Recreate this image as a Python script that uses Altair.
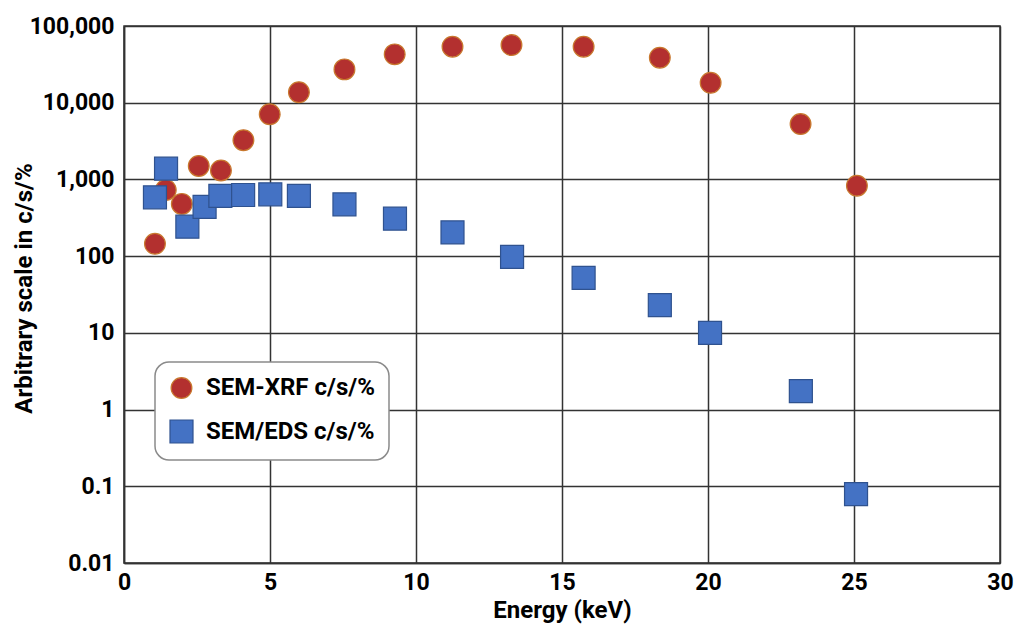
import altair as alt
import pandas as pd

xrf_energy = [1.06, 1.43, 1.98, 2.56, 3.32, 4.09, 4.99, 5.99, 7.55, 9.27, 11.25, 13.27, 15.74, 18.35, 20.09, 23.17, 25.1]
xrf_value = [145, 730, 480, 1500, 1310, 3250, 7060, 13700, 27200, 42700, 53700, 56500, 53700, 38600, 18200, 5270, 828]

eds_energy = [1.06, 1.44, 2.17, 2.76, 3.30, 4.08, 5.01, 5.99, 7.55, 9.28, 11.25, 13.29, 15.74, 18.35, 20.07, 23.18, 25.07]
eds_value = [585, 1380, 242, 440, 612, 627, 640, 612, 473, 308, 204, 98, 52, 23, 10, 1.74, 0.079]

series_names = ["SEM-XRF c/s/%", "SEM/EDS c/s/%"]
y_ticks = [0.01, 0.1, 1, 10, 100, 1000, 10000, 100000]
x_ticks = [0, 5, 10, 15, 20, 25, 30]

rows = []
for e, v in zip(xrf_energy, xrf_value):
    rows.append({"energy": e, "value": v, "series": series_names[0]})
for e, v in zip(eds_energy, eds_value):
    rows.append({"energy": e, "value": v, "series": series_names[1]})
df = pd.DataFrame(rows)

FONT = "Roboto"

chart = alt.Chart(df).mark_point(filled=True, opacity=1, strokeWidth=1.2).encode(
    x=alt.X("energy:Q", title="Energy (keV)",
            scale=alt.Scale(domain=[0, 30], nice=False, zero=False),
            axis=alt.Axis(values=x_ticks, format="d", grid=True, ticks=False,
                          labelFlush=False, labelPadding=8, titlePadding=4)),
    y=alt.Y("value:Q", title="Arbitrary scale in c/s/%",
            scale=alt.Scale(type="log", domain=[0.01, 100000], nice=False),
            axis=alt.Axis(values=y_ticks, format=",", grid=True, ticks=False,
                          labelFlush=False, labelPadding=10,
                          titleX=-88, titleY=262, titleBaseline="bottom")),
    shape=alt.Shape("series:N", scale=alt.Scale(domain=series_names, range=["circle", "square"]),
                    legend=alt.Legend(title=None)),
    fill=alt.Fill("series:N", scale=alt.Scale(domain=series_names, range=["#B3302F", "#4472C4"]),
                  legend=alt.Legend(title=None)),
    stroke=alt.Stroke("series:N", scale=alt.Scale(domain=series_names, range=["#C8782E", "#2F528F"]),
                      legend=alt.Legend(title=None)),
    size=alt.Size("series:N", scale=alt.Scale(domain=series_names, range=[430, 529]),
                  legend=alt.Legend(title=None)),
).properties(
    width=876,
    height=537,
    autosize=alt.AutoSizeParams(type="none"),
    padding={"left": 116, "top": 18, "right": 16, "bottom": 70},
).configure_view(
    stroke="#333333", strokeWidth=1.5
).configure_axis(
    labelFont=FONT, labelFontSize=23, labelFontWeight="bold", labelColor="#000000",
    titleFont=FONT, titleFontSize=24, titleFontWeight="bold", titleColor="#000000",
    gridColor="#333333", gridWidth=1.5, gridOpacity=1,
    domainColor="#333333", domainWidth=1.5,
).configure_legend(
    orient="none", legendX=31, legendY=336,
    labelFont=FONT, labelFontSize=24, labelFontWeight="bold", labelColor="#000000",
    padding=14, cornerRadius=14, strokeColor="#8a8a8a", strokeWidth=1.5,
    fillColor="#ffffff", rowPadding=16, labelOffset=12, symbolStrokeWidth=1.2,
    labelLimit=400
)

chart.save("out.html", embed_options={"renderer": "svg", "actions": False})
